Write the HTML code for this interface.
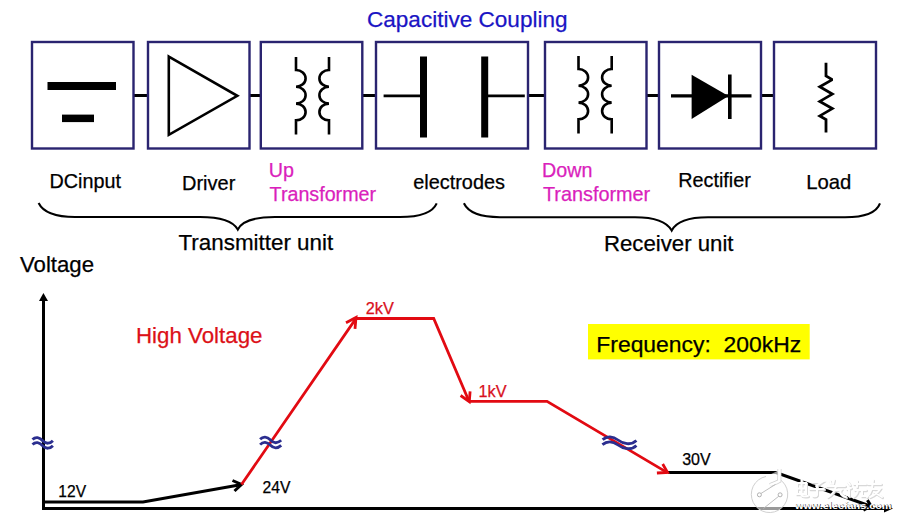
<!DOCTYPE html>
<html><head><meta charset="utf-8">
<style>
html,body{margin:0;padding:0;background:#fff;width:900px;height:522px;overflow:hidden}
svg{position:absolute;left:0;top:0;display:block}
text{font-family:"Liberation Sans",sans-serif}
</style></head><body>
<svg width="900" height="522" viewBox="0 0 900 522">
<rect width="900" height="522" fill="#fff"/>
<!-- title -->
<text x="367" y="26.8" font-size="22.55" fill="#1a14c4" stroke="#1a14c4" stroke-width="0.25">Capacitive Coupling</text>

<!-- connectors -->
<g stroke="#000" stroke-width="3">
<line x1="133" y1="95.5" x2="148" y2="95.5"/>
<line x1="249" y1="95.5" x2="261" y2="95.5"/>
<line x1="362" y1="95.5" x2="376" y2="95.5"/>
<line x1="528" y1="95.5" x2="545" y2="95.5"/>
<line x1="646" y1="95.5" x2="659" y2="95.5"/>
<line x1="761" y1="95.5" x2="774" y2="95.5"/>
</g>
<!-- boxes -->
<g fill="none" stroke="#2a2470" stroke-width="2.4">
<rect x="32" y="42" width="101.5" height="106.5"/>
<rect x="148" y="42" width="101.5" height="106.5"/>
<rect x="260.8" y="42" width="101.5" height="106.5"/>
<rect x="376" y="42" width="152" height="106.5"/>
<rect x="545" y="42" width="101.5" height="106.5"/>
<rect x="659" y="42" width="102" height="106.5"/>
<rect x="774" y="42" width="102" height="106.5"/>
</g>
<!-- DC input -->
<rect x="47.5" y="82" width="68.5" height="8" fill="#000"/>
<rect x="62" y="114.6" width="32" height="7.5" fill="#000"/>
<!-- driver -->
<path d="M168.8,56.6 L237.3,95.8 L168.8,134.8 Z" fill="none" stroke="#000" stroke-width="2.6" stroke-linejoin="miter"/>
<!-- transformers -->
<g fill="none" stroke="#000" stroke-width="2.6">
<path d="M296,57 V70 A9.6,8.4 0 0 1 296,86.8 A9.6,8.4 0 0 1 296,103.6 A9.6,8.4 0 0 1 296,120.4 V134.5"/>
<path d="M329,57 V70 A9.6,8.4 0 0 0 329,86.8 A9.6,8.4 0 0 0 329,103.6 A9.6,8.4 0 0 0 329,120.4 V134.5"/>
<path d="M578.5,56 V69 A9.6,8.4 0 0 1 578.5,85.8 A9.6,8.4 0 0 1 578.5,102.6 A9.6,8.4 0 0 1 578.5,119.4 V133.6"/>
<path d="M611.7,56 V69 A9.6,8.4 0 0 0 611.7,85.8 A9.6,8.4 0 0 0 611.7,102.6 A9.6,8.4 0 0 0 611.7,119.4 V133.6"/>
</g>
<!-- capacitor -->
<rect x="420" y="56.5" width="7" height="81" fill="#000"/>
<rect x="481.2" y="56.5" width="7" height="81" fill="#000"/>
<line x1="383.6" y1="95.8" x2="421" y2="95.8" stroke="#000" stroke-width="2.7"/>
<line x1="487" y1="95.8" x2="524.8" y2="95.8" stroke="#000" stroke-width="2.7"/>
<!-- diode -->
<line x1="671" y1="95.9" x2="751.5" y2="95.9" stroke="#000" stroke-width="3.2"/>
<path d="M691.6,74.8 L728.5,96 L691.6,119 Z" fill="#000"/>
<rect x="728" y="74.5" width="3.6" height="44.5" fill="#000"/>
<!-- resistor -->
<path d="M826,62.8 V76 L832.3,79.6 L819.8,86.8 L832.3,94.1 L819.8,101.4 L832.3,108.6 L819.8,115.9 L826,119.5 V132.4" fill="none" stroke="#000" stroke-width="2.8" stroke-linejoin="miter" stroke-miterlimit="2"/>

<!-- labels -->
<g fill="#000" stroke="#000" stroke-width="0.25">
<text x="49.5" y="187.5" font-size="19.8">DCinput</text>
<text x="182" y="189.9" font-size="20">Driver</text>
<text x="413.2" y="188.7" font-size="19.9">electrodes</text>
<text x="678.3" y="187.2" font-size="19.8">Rectifier</text>
<text x="806.2" y="189.3" font-size="20.3">Load</text>
</g>
<g font-size="19.7" fill="#da1fbc" stroke="#da1fbc" stroke-width="0.25">
<text x="268.8" y="176.5">Up</text>
<text x="269.6" y="200.5">Transformer</text>
<text x="542.1" y="177.4">Down</text>
<text x="542.9" y="201" font-size="19.85">Transformer</text>
</g>
<!-- braces -->
<g fill="none" stroke="#000" stroke-width="2.1">
<path d="M38.6,203 C44,214 58,217 75,217 L200,217 C222,217 233,221 237.8,229.5 C242,221 253,217 275,217 L400,217 C418,217 432,214 436.7,203.3"/>
<path d="M463.9,203.3 C469,214 483,217.2 500,217.2 L635,217.2 C656,217.2 667,222 671.7,230.5 C676,222 687,217.2 708,217.2 L845,217.2 C862,217.2 876,214 880,203.3"/>
</g>
<g font-size="22.2" fill="#000" stroke="#000" stroke-width="0.25">
<text x="178.5" y="250.2" font-size="22.4">Transmitter unit</text>
<text x="604" y="250.6">Receiver unit</text>
<text x="20" y="272.3">Voltage</text>
</g>

<!-- chart -->
<g stroke="#000" stroke-width="3" fill="none">
<line x1="43.5" y1="509.9" x2="43.5" y2="298"/>
<line x1="42" y1="508.4" x2="886" y2="508.4"/>
<polyline points="43.5,501.9 143,501.9 240.5,484.8"/>
<polyline points="232.5,480.5 241.5,484.5 234.5,491" stroke-linejoin="miter"/>
<polyline points="668,472.4 776,472.5 870,506"/>
<polyline points="867.4,500.1 871,506 863.4,510.2"/>
</g>
<path d="M43.4,293 L48,301 L39,301 Z" fill="#000"/>
<path d="M893,508.4 L884,504.4 L884,512.4 Z" fill="#000"/>
<g stroke="#e20a12" stroke-width="2.8" fill="none" stroke-linejoin="miter">
<polyline points="241.5,484.5 356,318.5 433.7,318.5 469,401.2"/>
<polyline points="346,322.8 356,317.5 355,328.8"/>
<polyline points="460.6,395.5 469.3,401.6 470.1,391.3"/>
<polyline points="469,401.4 547,401.4 667.3,472.6"/>
<polyline points="662.7,464 667.5,472.4 656.9,473"/>
</g>
<!-- waves -->
<g stroke="#2b2e8f" stroke-width="2.8" fill="none" stroke-linecap="butt">
<path d="M32.5,439.5 C35.5,436.5 39.5,437 43,441 C46,444 50,444 52.9,440.8"/>
<path d="M32.5,444.5 C35.5,441.5 39.5,442 43,446 C46,449 50,449 52.9,445.8"/>
<path d="M260.1,439.3 C263,436.3 267,436.3 270.5,440 C273.5,443.3 277.5,443.5 281.2,440.3"/>
<path d="M260.1,444.6 C263,441.6 267,441.6 270.5,445.3 C273.5,448.6 277.5,448.8 281.2,445.4"/>
<path d="M602.6,439.6 C607,435.8 613,436.2 618,440 S631,445.8 636.4,440.6"/>
<path d="M602.4,444.6 C607,440.8 613,441.2 618,445 S631,450.8 636.4,445.4"/>
</g>
<g font-size="15" fill="#000" stroke="#000" stroke-width="0.25">
<text x="58.3" y="496.5" font-size="15.6">12V</text>
<text x="262.6" y="493.4" font-size="15.7">24V</text>
<text x="682.2" y="465.3" font-size="16">30V</text>
</g>
<g font-size="16.3" fill="#d8101c" stroke="#d8101c" stroke-width="0.25">
<text x="365.8" y="314.2">2kV</text>
<text x="478.5" y="397.3">1kV</text>
</g>
<text x="136" y="342.5" font-size="22.3" fill="#dc1018" stroke="#dc1018" stroke-width="0.25">High Voltage</text>
<!-- watermark -->
<g>
<path d="M779.5,470 L779.3,479 A18.2,18.2 0 1 1 766,476.5" fill="#fff" fill-opacity="0.6" stroke="#d0d0d0" stroke-width="1"/>
<path d="M779.5,469 L779.3,481 C776,483 772,484 770,485" fill="none" stroke="#d0d0d0" stroke-width="4"/>
<path d="M779.5,469 L779.3,481 C776,483 772,484 770,485" fill="none" stroke="#fff" stroke-width="2.6"/>
<line x1="760.8" y1="493.6" x2="775.5" y2="484.4" stroke="#b8b8b8" stroke-width="0.9"/>
<line x1="778.8" y1="496.2" x2="763.4" y2="508.5" stroke="#b8b8b8" stroke-width="0.9"/>
<circle cx="759.4" cy="494.8" r="2" fill="#fff" stroke="#a8a8a8" stroke-width="0.9"/>
<circle cx="780.1" cy="494.8" r="2" fill="#fff" stroke="#a8a8a8" stroke-width="0.9"/>
</g>
<g stroke-linecap="round" fill="none">
<g stroke="#d8d8d8" stroke-width="2.4" transform="translate(0.8,1)">
<path d="M797,483 H806 V494 H797 Z M797,488.5 H806 M801.5,480 V495 Q802,497 808,496"/>
<path d="M812,482 H822 L816,486 M810,489 H824 M817,486 V495 Q816,497 813,496"/>
<path d="M830,481 L831,484 M834,480 L833,484 M827,486 H845 M836,486 Q834,494 828,497 M834,490 H841 Q838,494 846,497"/>
<path d="M848,482 L850,485 M847,489 L851,488 M849,488 V496 M854,484 H866 M857,481 V487 M855,490 H866 M858,490 Q857,495 853,497 M862,490 V496 H867"/>
<path d="M868,484 H881 M873,480 L872,488 Q870,494 867,497 M873,489 H880 Q877,494 870,497 M874,492 L882,497"/>
</g>
<g stroke="#fff" stroke-width="2">
<path d="M797,483 H806 V494 H797 Z M797,488.5 H806 M801.5,480 V495 Q802,497 808,496"/>
<path d="M812,482 H822 L816,486 M810,489 H824 M817,486 V495 Q816,497 813,496"/>
<path d="M830,481 L831,484 M834,480 L833,484 M827,486 H845 M836,486 Q834,494 828,497 M834,490 H841 Q838,494 846,497"/>
<path d="M848,482 L850,485 M847,489 L851,488 M849,488 V496 M854,484 H866 M857,481 V487 M855,490 H866 M858,490 Q857,495 853,497 M862,490 V496 H867"/>
<path d="M868,484 H881 M873,480 L872,488 Q870,494 867,497 M873,489 H880 Q877,494 870,497 M874,492 L882,497"/>
</g>
</g>
<text x="795.6" y="509.4" font-size="9.6" font-weight="bold" fill="#333" textLength="96.5" lengthAdjust="spacingAndGlyphs">www.elecfans.com</text>
<text x="795" y="508.6" font-size="9.6" font-weight="bold" fill="#fff" textLength="96.5" lengthAdjust="spacingAndGlyphs">www.elecfans.com</text>
<rect x="588" y="324" width="221.7" height="35.4" fill="#ffff00"/>
<text x="596.3" y="351.8" font-size="22.9" fill="#000" xml:space="preserve" stroke="#000" stroke-width="0.25">Frequency:  200kHz</text>
</svg>
</body></html>
